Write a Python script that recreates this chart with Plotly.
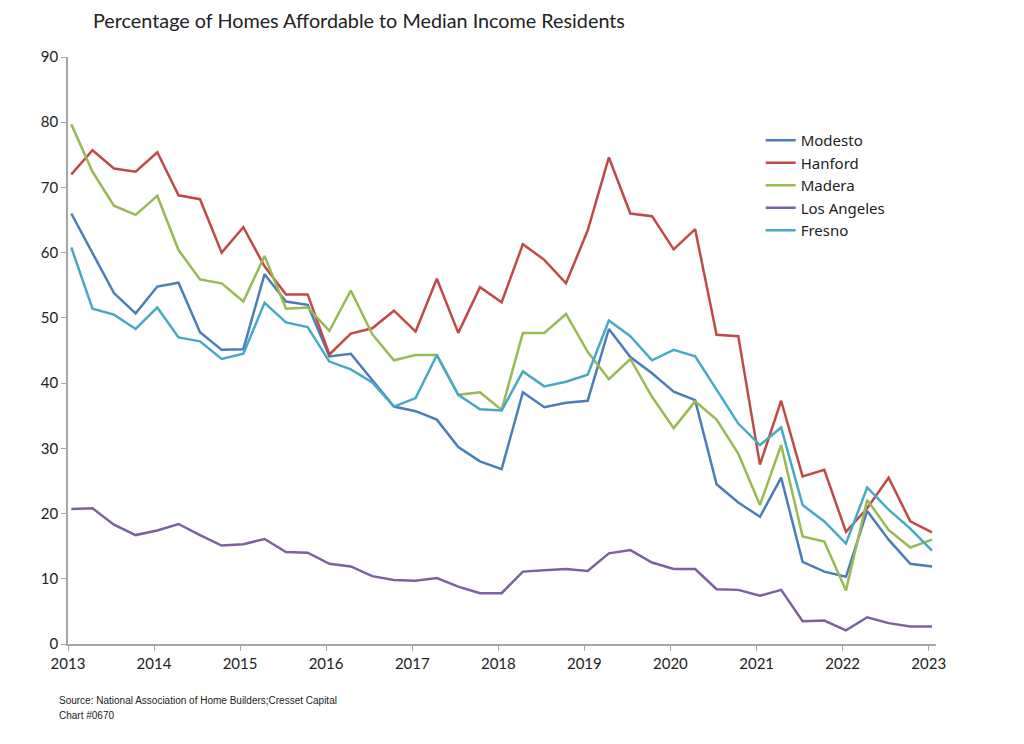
import plotly.graph_objects as go

# quarterly observations, 2013 Q1 .. 2023 Q1
quarters = [f"{y}-{m:02d}-15" for y in range(2013, 2024) for m in (1, 4, 7, 10)][:41]

modesto = [66.0, 60.0, 53.8, 50.7, 54.8, 55.4, 47.8, 45.1, 45.2, 56.7,
           52.5, 52.0, 44.1, 44.5, 40.5, 36.4, 35.7, 34.4, 30.2, 28.0,
           26.8, 38.6, 36.3, 37.0, 37.3, 48.3, 44.0, 41.5, 38.7, 37.4,
           24.5, 21.7, 19.5, 25.5, 12.6, 11.1, 10.3, 20.4, 16.0, 12.3, 11.9]
hanford = [72.0, 75.7, 72.9, 72.4, 75.4, 68.8, 68.2, 60.0, 63.9, 57.9,
           53.6, 53.6, 44.4, 47.6, 48.4, 51.1, 47.9, 56.0, 47.7, 54.7,
           52.4, 61.3, 58.9, 55.3, 63.4, 74.6, 66.0, 65.6, 60.5, 63.6,
           47.4, 47.2, 27.5, 37.3, 25.7, 26.7, 17.2, 20.8, 25.5, 18.8, 17.1]
madera = [79.7, 72.4, 67.2, 65.8, 68.7, 60.4, 55.9, 55.3, 52.5, 59.5,
          51.4, 51.6, 48.0, 54.2, 47.5, 43.5, 44.3, 44.3, 38.2, 38.6,
          35.9, 47.7, 47.7, 50.6, 44.8, 40.6, 43.7, 37.9, 33.1, 37.2,
          34.4, 29.2, 21.3, 30.5, 16.5, 15.7, 8.2, 22.1, 17.5, 14.8, 16.0]
los_angeles = [20.7, 20.8, 18.3, 16.7, 17.4, 18.4, 16.7, 15.1, 15.3, 16.1,
               14.1, 14.0, 12.3, 11.9, 10.4, 9.8, 9.7, 10.1, 8.8, 7.8,
               7.8, 11.1, 11.3, 11.5, 11.2, 13.9, 14.4, 12.5, 11.5, 11.5,
               8.4, 8.3, 7.4, 8.3, 3.5, 3.6, 2.1, 4.1, 3.2, 2.7, 2.7]
fresno = [60.8, 51.4, 50.5, 48.3, 51.6, 47.0, 46.4, 43.7, 44.5, 52.3,
          49.3, 48.6, 43.3, 42.1, 40.1, 36.4, 37.7, 44.3, 38.2, 36.0,
          35.8, 41.8, 39.5, 40.2, 41.3, 49.6, 47.2, 43.5, 45.1, 44.1,
          39.0, 33.8, 30.5, 33.2, 21.3, 18.8, 15.4, 24.0, 20.6, 17.7, 14.3]

year_ticks = [f"{y}-01-01" for y in range(2013, 2024)]
year_labels = [str(y) for y in range(2013, 2024)]

series = [
    ("Modesto", modesto, "#4a7ebb"),
    ("Hanford", hanford, "#be4b48"),
    ("Madera", madera, "#98b954"),
    ("Los Angeles", los_angeles, "#7d60a0"),
    ("Fresno", fresno, "#46aac5"),
]

fig = go.Figure()
for name, vals, col in series:
    fig.add_trace(go.Scatter(x=quarters, y=vals, name=name, mode="lines",
                             line=dict(color=col, width=2.5)))

font_main = "Lato, Noto Sans, sans-serif"
axis_font = dict(family=font_main, size=15, color="#222222")

# page body has an 8px margin, so the figure is 8px smaller and shifted
W, H = 1016, 736
fig.update_layout(
    width=W, height=H,
    margin=dict(l=60, r=88, t=49, b=100),
    plot_bgcolor="white", paper_bgcolor="white",
    title=dict(text="Percentage of Homes Affordable to Median Income Residents",
               font=dict(family=font_main, size=19.8, color="#222222"),
               xref="container", x=85/W, xanchor="left",
               yref="container", y=1 - 13/H, yanchor="middle"),
    legend=dict(x=0.798, y=0.886, xanchor="left", yanchor="top",
                font=dict(family="Noto Sans, sans-serif", size=15, color="#222222"),
                bgcolor="rgba(0,0,0,0)", tracegroupgap=0, itemwidth=30),
    showlegend=True,
)

fig.update_xaxes(type="date", range=["2013-01-01", "2023-02-01"],
                 tickvals=year_ticks, ticktext=year_labels,
                 showline=True, linecolor="#a6a6a6", linewidth=1.5,
                 ticks="outside", ticklen=5, tickcolor="#a6a6a6",
                 showgrid=False, zeroline=False, tickfont=axis_font)
fig.update_yaxes(range=[0, 90], dtick=10,
                 showline=True, linecolor="#a6a6a6", linewidth=1.5,
                 ticks="outside", ticklen=5, tickcolor="#a6a6a6",
                 showgrid=False, zeroline=False, tickfont=axis_font)

src_font = dict(family="Liberation Sans, sans-serif", size=10, color="#222222")
for txt, ypix in [("Source: National Association of Home Builders;Cresset Capital", 700),
                  ("Chart #0670", 715)]:
    fig.add_annotation(text=txt, xref="paper", yref="paper",
                       x=-11/868, y=-(ypix - 644)/587,
                       xanchor="left", yanchor="middle", showarrow=False,
                       font=src_font)

fig.write_html("out.html")
